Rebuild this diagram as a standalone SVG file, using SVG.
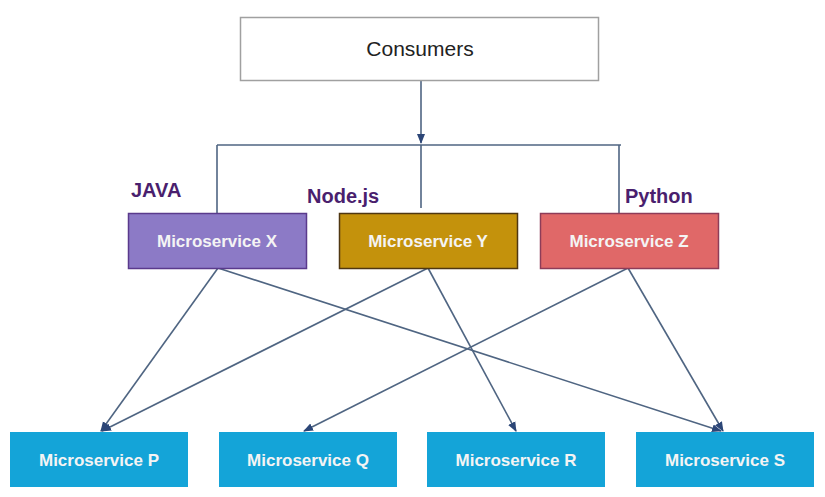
<svg xmlns="http://www.w3.org/2000/svg" width="825" height="497" viewBox="0 0 825 497">
<style>
.lbl{font-family:"Liberation Sans",Arial,sans-serif;font-weight:bold;font-size:17px;fill:#f4f4f4;text-anchor:middle}
.lang{font-family:"Liberation Sans",Arial,sans-serif;font-weight:bold;font-size:20px;fill:#4a1f6e}
.ln{stroke:#4f6582;stroke-width:1.6;fill:none}
.bot{fill:#14a4d8}
</style>
<defs>
<marker id="ah" viewBox="0 0 10 10" refX="9" refY="5" markerWidth="7" markerHeight="7" orient="auto" markerUnits="userSpaceOnUse">
<path d="M0,0 L10,5 L0,10 z" fill="#2c4677"/>
</marker>
<marker id="ah2" viewBox="0 0 10 10" refX="9" refY="5" markerWidth="10" markerHeight="10" orient="auto" markerUnits="userSpaceOnUse">
<path d="M0,1 L10,5 L0,9 z" fill="#2c4677"/>
</marker>
</defs>
<rect width="825" height="497" fill="#ffffff"/>
<g id="connectors">
<line class="ln" x1="421" y1="81" x2="421" y2="143" marker-end="url(#ah2)"/>
<line class="ln" x1="217" y1="145" x2="621" y2="145"/>
<line class="ln" x1="217" y1="145" x2="217" y2="213"/>
<line class="ln" x1="421" y1="145" x2="421" y2="208"/>
<line class="ln" x1="619" y1="145" x2="619" y2="213"/>
<line class="ln" x1="218" y1="268" x2="101" y2="431" marker-end="url(#ah2)"/>
<line class="ln" x1="218" y1="268" x2="721" y2="431" marker-end="url(#ah2)"/>
<line class="ln" x1="428" y1="268" x2="102" y2="431" marker-end="url(#ah2)"/>
<line class="ln" x1="428" y1="268" x2="516" y2="431" marker-end="url(#ah2)"/>
<line class="ln" x1="628" y1="268" x2="304" y2="431" marker-end="url(#ah2)"/>
<line class="ln" x1="628" y1="268" x2="723" y2="431" marker-end="url(#ah2)"/>
</g>
<g id="consumers">
<rect x="240.5" y="17.5" width="358" height="63" fill="#ffffff" stroke="#a0a0a0" stroke-width="1.5"/>
<text x="420" y="56" font-family="'Liberation Sans',Arial,sans-serif" font-size="21" fill="#222222" text-anchor="middle">Consumers</text>
</g>
<g id="lang-java"><text class="lang" x="131" y="197">JAVA</text></g>
<g id="lang-node"><text class="lang" x="307" y="203">Node.js</text></g>
<g id="lang-python"><text class="lang" x="625" y="203">Python</text></g>
<g id="ms-x">
<rect x="128.5" y="213.5" width="178" height="55" fill="#8c7ac6" stroke="#5a3a8c" stroke-width="1.5"/>
<text class="lbl" x="217" y="247">Microservice X</text>
</g>
<g id="ms-y">
<rect x="339.5" y="213.5" width="178" height="55" fill="#c4920c" stroke="#4f3712" stroke-width="1.5"/>
<text class="lbl" x="428" y="247">Microservice Y</text>
</g>
<g id="ms-z">
<rect x="540.5" y="213.5" width="178" height="55" fill="#e06868" stroke="#8e3c58" stroke-width="1.5"/>
<text class="lbl" x="629" y="247">Microservice Z</text>
</g>
<g id="ms-p">
<rect class="bot" x="10" y="432" width="178" height="55"/>
<text class="lbl" x="99" y="466">Microservice P</text>
</g>
<g id="ms-q">
<rect class="bot" x="219" y="432" width="178" height="55"/>
<text class="lbl" x="308" y="466">Microservice Q</text>
</g>
<g id="ms-r">
<rect class="bot" x="427" y="432" width="178" height="55"/>
<text class="lbl" x="516" y="466">Microservice R</text>
</g>
<g id="ms-s">
<rect class="bot" x="636" y="432" width="178" height="55"/>
<text class="lbl" x="725" y="466">Microservice S</text>
</g>
</svg>
